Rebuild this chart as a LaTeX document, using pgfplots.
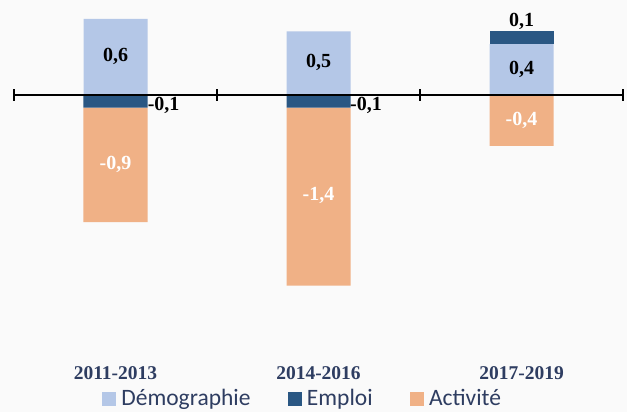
\documentclass[border=0pt]{standalone}
\usepackage{pgfplots}
\pgfplotsset{compat=1.18}
\usepackage{fontspec}
\setmainfont{Liberation Serif}
\newfontfamily\legfont{Carlito}
\definecolor{demo}{HTML}{B4C7E7}
\definecolor{emploi}{HTML}{2A5783}
\definecolor{activ}{HTML}{F0B186}
\definecolor{navy}{HTML}{2E3D61}
\definecolor{bg}{HTML}{FAFAFA}
\pgfplotsset{base/.style={
  at={(0pt,0pt)}, anchor=south west, scale only axis,
  width=609pt, height=379pt,
  xmin=-0.5, xmax=2.5, ymin=-2.236, ymax=0.748}}
\begin{document}
\begin{tikzpicture}
\fill[bg] (-14pt,-33pt) rectangle (613pt,379pt);
% positive parts
\begin{axis}[base, hide axis, ybar stacked, bar width=64pt]
\addplot[fill=demo, draw=none] coordinates {(0,0.6) (1,0.5) (2,0.4)};
\addplot[fill=emploi, draw=none] coordinates {(0,0) (1,0) (2,0.1)};
\end{axis}
% negative parts
\begin{axis}[base, ybar stacked, bar width=64pt,
  axis x line=middle, axis y line=none,
  x axis line style={-, line width=1.5pt, black},
  xtick={-0.5,0.5,1.5,2.5}, xticklabels={},
  major tick length=12pt, tick align=center,
  xtick style={line width=1.5pt, black},
  axis on top]
\addplot[fill=emploi, draw=none] coordinates {(0,-0.1) (1,-0.1) (2,0)};
\addplot[fill=activ, draw=none] coordinates {(0,-0.9) (1,-1.4) (2,-0.4)};
\end{axis}
% labels and legend
\begin{axis}[base,
  axis x line=bottom, axis y line=none,
  x axis line style={draw=none},
  major tick length=0pt,
  xtick={0,1,2},
  xticklabels={2011-2013,2014-2016,2017-2019},
  xticklabel style={anchor=center, inner sep=0pt, yshift=6pt, font=\bfseries\fontsize{19.5}{23}\selectfont, text=navy},
  legend columns=3,
  legend style={at={(axis description cs:0.1445,-0.0515)}, anchor=west,
    draw=none, fill=none, inner sep=0pt, outer sep=0pt,
    font=\legfont\fontsize{23.5}{28}\selectfont, text=navy,
    nodes={inner sep=0pt},
    /tikz/every odd column/.style={column sep=6pt},
    /tikz/every even column/.style={column sep=37pt}},
]
\addlegendimage{legend image code/.code={\fill[demo] (0pt,-6.5pt) rectangle (13pt,6.5pt);}}
\addlegendentry{Démographie}
\addlegendimage{legend image code/.code={\fill[emploi] (0pt,-6.5pt) rectangle (13pt,6.5pt);}}
\addlegendentry{Emploi}
\addlegendimage{legend image code/.code={\fill[activ] (0pt,-6.5pt) rectangle (13pt,6.5pt);}}
\addlegendentry{Activité}
\addplot[draw=none, mark=none, nodes near coords, point meta=explicit symbolic,
  every node near coord/.style={anchor=center, inner sep=0pt, font=\bfseries\fontsize{20}{24}\selectfont, text=black}]
  coordinates {(0,0.303) [{0,6}] (1,0.26) [{0,5}] (2,0.2) [{0,4}] (2,0.583) [{0,1}]};
\addplot[draw=none, mark=none, nodes near coords, point meta=explicit symbolic,
  every node near coord/.style={anchor=center, inner sep=0pt, font=\bfseries\fontsize{20}{24}\selectfont, text=white}]
  coordinates {(0,-0.55) [{-0,9}] (1,-0.787) [{-1,4}] (2,-0.197) [{-0,4}]};
\addplot[draw=none, mark=none, nodes near coords, point meta=explicit symbolic,
  every node near coord/.style={anchor=west, inner sep=0pt, font=\bfseries\fontsize{20}{24}\selectfont, text=black}]
  coordinates {(0.158,-0.079) [{-0,1}] (1.155,-0.079) [{-0,1}]};
\end{axis}
\pgfresetboundingbox
\useasboundingbox (-14pt,-33pt) rectangle (613pt,379pt);
\end{tikzpicture}
\end{document}
